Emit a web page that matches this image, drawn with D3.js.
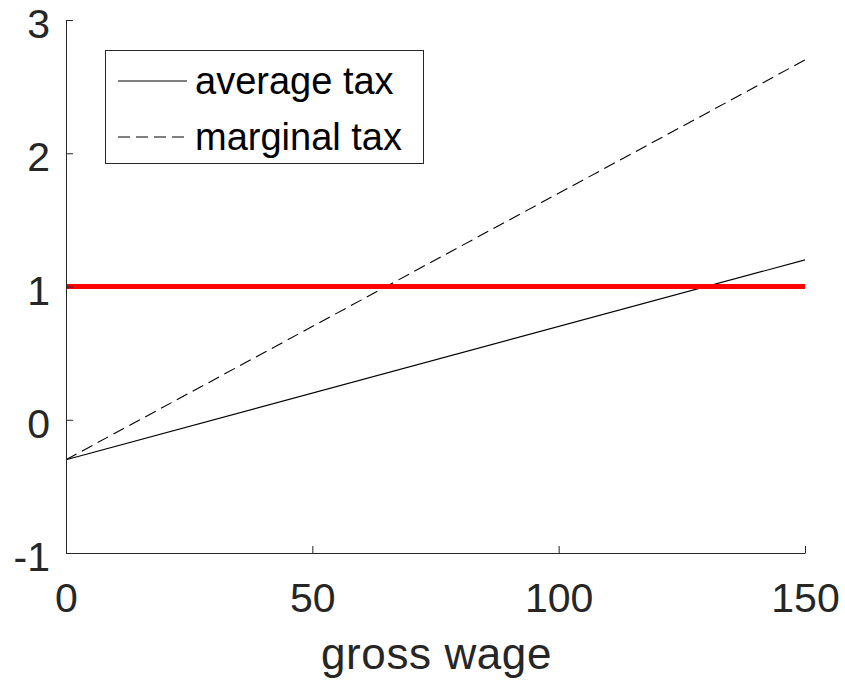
<!DOCTYPE html>
<html>
<head>
<meta charset="utf-8">
<script src="https://cdn.jsdelivr.net/npm/d3@7"></script>
<style>
  html, body { margin: 0; padding: 0; background: #fff; }
  svg { display: block; font-family: "Liberation Sans", Arial, sans-serif; }
</style>
</head>
<body>
<svg id="chart" width="845" height="682"></svg>
<script>
// ---- data ----
const wage = [0, 150];
const averageTax = [-0.3, 1.2];
const marginalTax = [-0.3, 2.7];
const referenceLevel = [1, 1];
const xTicks = [0, 50, 100, 150];
const yTicks = [-1, 0, 1, 2, 3];
const seriesNames = ["average tax", "marginal tax"];
const xLabel = "gross wage";

(function () {
// ---- layout ----
const svg = d3.select("#chart");
const mLeft = 66, mRight = 805, mTop = 20, mBottom = 553;
const axisColor = "#262626";

const x = d3.scaleLinear().domain([0, 150]).range([mLeft, mRight]);
const y = d3.scaleLinear().domain([-1, 3]).range([mBottom, mTop]);

const line = d3.line().x(d => x(d[0])).y(d => y(d[1]));

// series
svg.append("path")
  .datum(wage.map((w, i) => [w, averageTax[i]]))
  .attr("d", line).attr("fill", "none")
  .attr("stroke", "#000").attr("stroke-width", 1.1);

svg.append("path")
  .datum(wage.map((w, i) => [w, marginalTax[i]]))
  .attr("d", line).attr("fill", "none")
  .attr("stroke", "#000").attr("stroke-width", 1.1)
  .attr("stroke-dasharray", "12,6");

svg.append("path")
  .datum(wage.map((w, i) => [w, referenceLevel[i]]))
  .attr("d", line).attr("fill", "none")
  .attr("stroke", "#ff0000").attr("stroke-width", 5);

// axes
const fmt = d => String(d);
const xAxis = d3.axisBottom(x).tickValues(xTicks).tickSizeInner(-7).tickSizeOuter(0).tickPadding(30)
  .tickFormat(fmt);
const gx = svg.append("g").attr("transform", `translate(0,${mBottom})`).call(xAxis);
gx.select(".domain").attr("stroke", axisColor).attr("stroke-width", 1);
gx.selectAll(".tick line").attr("stroke", axisColor);
gx.selectAll(".tick text").attr("fill", axisColor).attr("font-size", 41)
  .attr("font-family", "Liberation Sans, Arial, sans-serif");

const yAxis = d3.axisLeft(y).tickValues(yTicks).tickSizeInner(-7).tickSizeOuter(0).tickPadding(16)
  .tickFormat(fmt);
const gy = svg.append("g").attr("transform", `translate(${mLeft},0)`).call(yAxis);
gy.select(".domain").attr("stroke", axisColor).attr("stroke-width", 1);
gy.selectAll(".tick line").attr("stroke", axisColor);
gy.selectAll(".tick text").attr("fill", axisColor).attr("font-size", 41)
  .attr("font-family", "Liberation Sans, Arial, sans-serif")
  .attr("dy", "0.43em");

// x label
svg.append("text")
  .attr("x", (mLeft + mRight) / 2 + 1).attr("y", 669)
  .attr("text-anchor", "middle")
  .attr("font-size", 44).attr("letter-spacing", 0.6)
  .attr("fill", axisColor)
  .text(xLabel);

// legend
const lg = svg.append("g");
lg.append("rect").attr("x", 105.5).attr("y", 50.5).attr("width", 318).attr("height", 113)
  .attr("fill", "#fff").attr("stroke", axisColor).attr("stroke-width", 1);
const legendY = [81, 137];
seriesNames.forEach((name, i) => {
  lg.append("line").attr("x1", 118).attr("x2", 187).attr("y1", legendY[i]).attr("y2", legendY[i])
    .attr("stroke", "#000").attr("stroke-width", 1.1)
    .attr("stroke-dasharray", i === 1 ? "12,6" : null);
  lg.append("text").attr("x", 195).attr("y", legendY[i] + 13)
    .attr("font-size", 38).attr("fill", "#000").text(name);
});
})();
</script>
</body>
</html>
